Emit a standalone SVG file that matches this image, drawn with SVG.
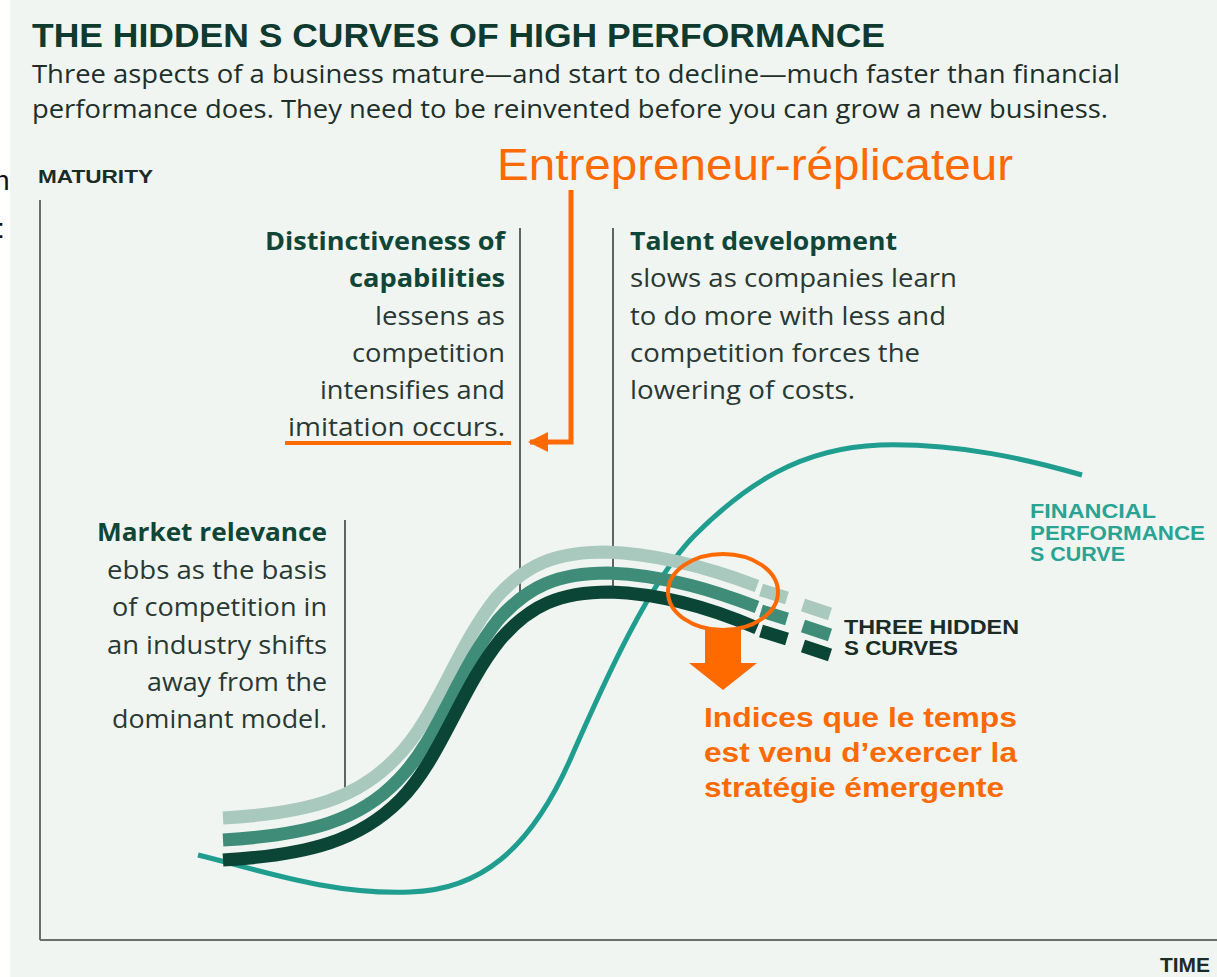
<svg xmlns="http://www.w3.org/2000/svg" width="1217" height="977" viewBox="0 0 1217 977">
<style>
.title{font-family:"Liberation Sans",Arial,sans-serif;font-weight:bold;fill:#0e3a2f}
.sub{font-family:"Open Sans","Liberation Sans",sans-serif;fill:#1e2f2a}
.body{font-family:"Open Sans","Liberation Sans",sans-serif;font-size:25px;fill:#2a3833}
.head{font-family:"Open Sans","Liberation Sans",sans-serif;font-size:25px;font-weight:bold;fill:#0f4637}
.axis{font-family:"Liberation Sans",Arial,sans-serif;font-weight:bold;fill:#1b2b26}
.lab{font-family:"Liberation Sans",Arial,sans-serif;font-weight:bold;font-size:20px}
.orange{font-family:"Liberation Sans",Arial,sans-serif;fill:#ff6a00}
.lead{stroke:#2d3431;stroke-width:1.5;fill:none}
.hc{fill:none;stroke-width:13}
</style>
<defs>
<marker id="ah" viewBox="0 0 10 10" refX="9" refY="5" markerWidth="4" markerHeight="4.4" orient="auto" markerUnits="strokeWidth">
<path d="M0,0 L10,5 L0,10 Z" fill="#ff6a00"/>
</marker>
</defs>
<rect x="0" y="0" width="1217" height="977" fill="#ffffff"/>
<rect x="10" y="0" width="1207" height="977" fill="#f0f5f2"/>
<g id="fragments">
<text x="-6" y="190" font-family="Liberation Sans,sans-serif" font-size="28" fill="#111">n</text>
<text x="-3" y="238" font-family="Liberation Sans,sans-serif" font-size="28" fill="#111">:</text>
</g>
<g id="header">
<text class="title" x="32" y="47" font-size="33" textLength="853" lengthAdjust="spacingAndGlyphs">THE HIDDEN S CURVES OF HIGH PERFORMANCE</text>
<text class="sub" x="32" y="83" font-size="25" textLength="1088" lengthAdjust="spacingAndGlyphs">Three aspects of a business mature—and start to decline—much faster than financial</text>
<text class="sub" x="32" y="118" font-size="25" textLength="1076" lengthAdjust="spacingAndGlyphs">performance does. They need to be reinvented before you can grow a new business.</text>
</g>
<g id="axes">
<text class="axis" x="38" y="183" font-size="18" textLength="115" lengthAdjust="spacingAndGlyphs">MATURITY</text>
<line x1="40" y1="200" x2="40" y2="940" stroke="#3a3f3d" stroke-width="1.5"/>
<line x1="40" y1="940" x2="1217" y2="940" stroke="#6a6f6d" stroke-width="2"/>
<text class="axis" x="1160" y="972" font-size="20" textLength="50" lengthAdjust="spacingAndGlyphs">TIME</text>
</g>
<g id="connectors">
<line class="lead" x1="520" y1="228" x2="520" y2="603"/>
<line class="lead" x1="613" y1="228" x2="613" y2="588"/>
<line class="lead" x1="345" y1="520" x2="345" y2="797"/>
<path d="M571,190 V442 H530" fill="none" stroke="#ff6a00" stroke-width="5" marker-end="url(#ah)"/>
<line x1="285" y1="443" x2="511" y2="443" stroke="#ff6a00" stroke-width="4"/>
</g>
<g id="financial-curve">
<path d="M198,855 C260,870 330,895 410,892 C480,890 530,850 570,760 C605,680 650,580 695,535 C745,485 800,448 880,445 C960,443 1030,460 1082,475" fill="none" stroke="#1f9e8f" stroke-width="5"/>
</g>
<g id="hidden-curves">
<path class="hc" stroke="#a9c9bf" d="M223,818 C310,813 358,798 396,758 C436,718 456,648 496,598 C526,564 556,552 606,552 C666,554 720,572 757,586"/>
<path class="hc" stroke="#a9c9bf" d="M761,590 L787,598 M803,605 L830,614"/>
<path class="hc" stroke="#3f8d78" d="M223,840 C310,835 360,820 398,780 C438,740 458,670 498,620 C528,586 558,573 608,573 C668,575 720,593 757,607"/>
<path class="hc" stroke="#3f8d78" d="M761,611 L787,619 M803,626 L830,635"/>
<path class="hc" stroke="#0b4536" d="M223,860 C310,855 360,840 400,800 C440,760 460,690 500,640 C530,605 560,592 610,592 C670,594 720,612 757,628"/>
<path class="hc" stroke="#0b4536" d="M761,631 L787,639 M803,646 L830,655"/>
</g>
<g id="distinctiveness">
<text class="head" x="505" y="250" text-anchor="end" textLength="240" lengthAdjust="spacingAndGlyphs">Distinctiveness of</text>
<text class="head" x="505" y="287" text-anchor="end" textLength="156" lengthAdjust="spacingAndGlyphs">capabilities</text>
<text class="body" x="505" y="325" text-anchor="end" textLength="130" lengthAdjust="spacingAndGlyphs">lessens as</text>
<text class="body" x="505" y="362" text-anchor="end" textLength="153" lengthAdjust="spacingAndGlyphs">competition</text>
<text class="body" x="505" y="399" text-anchor="end" textLength="185" lengthAdjust="spacingAndGlyphs">intensifies and</text>
<text class="body" x="505" y="436" text-anchor="end" textLength="217" lengthAdjust="spacingAndGlyphs">imitation occurs.</text>
</g>
<g id="talent">
<text class="head" x="630" y="250" textLength="267" lengthAdjust="spacingAndGlyphs">Talent development</text>
<text class="body" x="630" y="287" textLength="327" lengthAdjust="spacingAndGlyphs">slows as companies learn</text>
<text class="body" x="630" y="325" textLength="316" lengthAdjust="spacingAndGlyphs">to do more with less and</text>
<text class="body" x="630" y="362" textLength="290" lengthAdjust="spacingAndGlyphs">competition forces the</text>
<text class="body" x="630" y="399" textLength="225" lengthAdjust="spacingAndGlyphs">lowering of costs.</text>
</g>
<g id="market">
<text class="head" x="327" y="541" text-anchor="end" textLength="230" lengthAdjust="spacingAndGlyphs">Market relevance</text>
<text class="body" x="327" y="579" text-anchor="end" textLength="220" lengthAdjust="spacingAndGlyphs">ebbs as the basis</text>
<text class="body" x="327" y="616" text-anchor="end" textLength="215" lengthAdjust="spacingAndGlyphs">of competition in</text>
<text class="body" x="327" y="654" text-anchor="end" textLength="220" lengthAdjust="spacingAndGlyphs">an industry shifts</text>
<text class="body" x="327" y="691" text-anchor="end" textLength="180" lengthAdjust="spacingAndGlyphs">away from the</text>
<text class="body" x="327" y="728" text-anchor="end" textLength="215" lengthAdjust="spacingAndGlyphs">dominant model.</text>
</g>
<g id="financial-label">
<text class="lab" fill="#2aa393" x="1030" y="518" textLength="126" lengthAdjust="spacingAndGlyphs">FINANCIAL</text>
<text class="lab" fill="#2aa393" x="1030" y="540" textLength="175" lengthAdjust="spacingAndGlyphs">PERFORMANCE</text>
<text class="lab" fill="#2aa393" x="1030" y="561" textLength="95" lengthAdjust="spacingAndGlyphs">S CURVE</text>
</g>
<g id="hidden-label">
<text class="lab" fill="#1b2b26" x="844" y="634" textLength="175" lengthAdjust="spacingAndGlyphs">THREE HIDDEN</text>
<text class="lab" fill="#1b2b26" x="844" y="655" textLength="114" lengthAdjust="spacingAndGlyphs">S CURVES</text>
</g>
<g id="entrepreneur">
<text class="orange" x="497" y="180" font-size="44" textLength="516" lengthAdjust="spacingAndGlyphs">Entrepreneur-réplicateur</text>
</g>
<g id="highlight">
<ellipse cx="723" cy="592" rx="55" ry="38" fill="none" stroke="#ff6a00" stroke-width="4"/>
<polygon points="705,628 741,628 741,663 757,663 723,690 689,663 705,663" fill="#ff6a00"/>
</g>
<g id="indices">
<text class="orange" x="704" y="727" font-size="27" font-weight="bold" textLength="313" lengthAdjust="spacingAndGlyphs">Indices que le temps</text>
<text class="orange" x="704" y="762" font-size="27" font-weight="bold" textLength="313" lengthAdjust="spacingAndGlyphs">est venu d’exercer la</text>
<text class="orange" x="704" y="797" font-size="27" font-weight="bold" textLength="300" lengthAdjust="spacingAndGlyphs">stratégie émergente</text>
</g>
</svg>
